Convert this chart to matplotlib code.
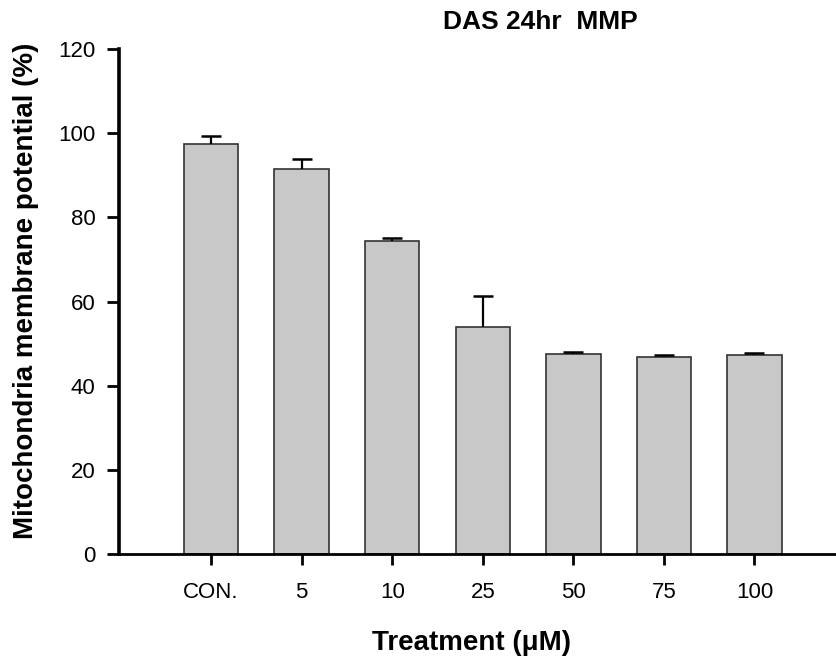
import matplotlib
matplotlib.use("Agg")
import matplotlib.pyplot as plt

plt.rcParams['font.family'] = ['Liberation Sans', 'DejaVu Sans']

categories = ["CON.", "5", "10", "25", "50", "75", "100"]
mmp_mean = [97.4, 91.4, 74.4, 54.0, 47.5, 46.9, 47.3]
mmp_err = [1.9, 2.4, 0.8, 7.2, 0.5, 0.4, 0.4]
y_ticks = [0, 20, 40, 60, 80, 100, 120]

fig = plt.figure(figsize=(8.36, 6.67), dpi=100)
ax = fig.add_axes([119 / 836, 113 / 667, 1 - 119 / 836, 505 / 667])

x = list(range(len(categories)))
tops = [m + e for m, e in zip(mmp_mean, mmp_err)]
ax.bar(x, mmp_mean, width=0.6, color='#c8c8c8', edgecolor='#333333', linewidth=1.2, zorder=2)
# upper error bars only
ax.vlines(x, mmp_mean, tops, colors='black', linewidth=1.6, zorder=3)
ax.plot(x, tops, linestyle='none', marker='_', markersize=15, markeredgewidth=1.8,
        color='black', zorder=3)

ax.set_xlim(-1.017, 6.9)
ax.set_ylim(0, 120)
ax.set_yticks(y_ticks)
ax.set_xticks(x)
ax.set_xticklabels(categories)

for s in ['top', 'right']:
    ax.spines[s].set_visible(False)
ax.spines['left'].set_linewidth(2.6)
ax.spines['bottom'].set_linewidth(2.0)
ax.tick_params(axis='y', direction='out', length=9, width=2.0, labelsize=16, pad=8)
ax.tick_params(axis='x', direction='out', length=8, width=2.0, labelsize=16, pad=12)

fig.text(540 / 836, 1 - 22 / 667, "DAS 24hr  MMP", ha='center', va='center',
         fontsize=19, fontweight='bold')
fig.text(471 / 836, 1 - 643 / 667, "Treatment (\u03bcM)", ha='center', va='center',
         fontsize=20, fontweight='bold')
fig.text(26 / 836, 1 - 291 / 667, "Mitochondria membrane potential (%)", ha='center', va='center',
         rotation=90, fontsize=20, fontweight='bold')

fig.savefig("out.png", dpi=100)
